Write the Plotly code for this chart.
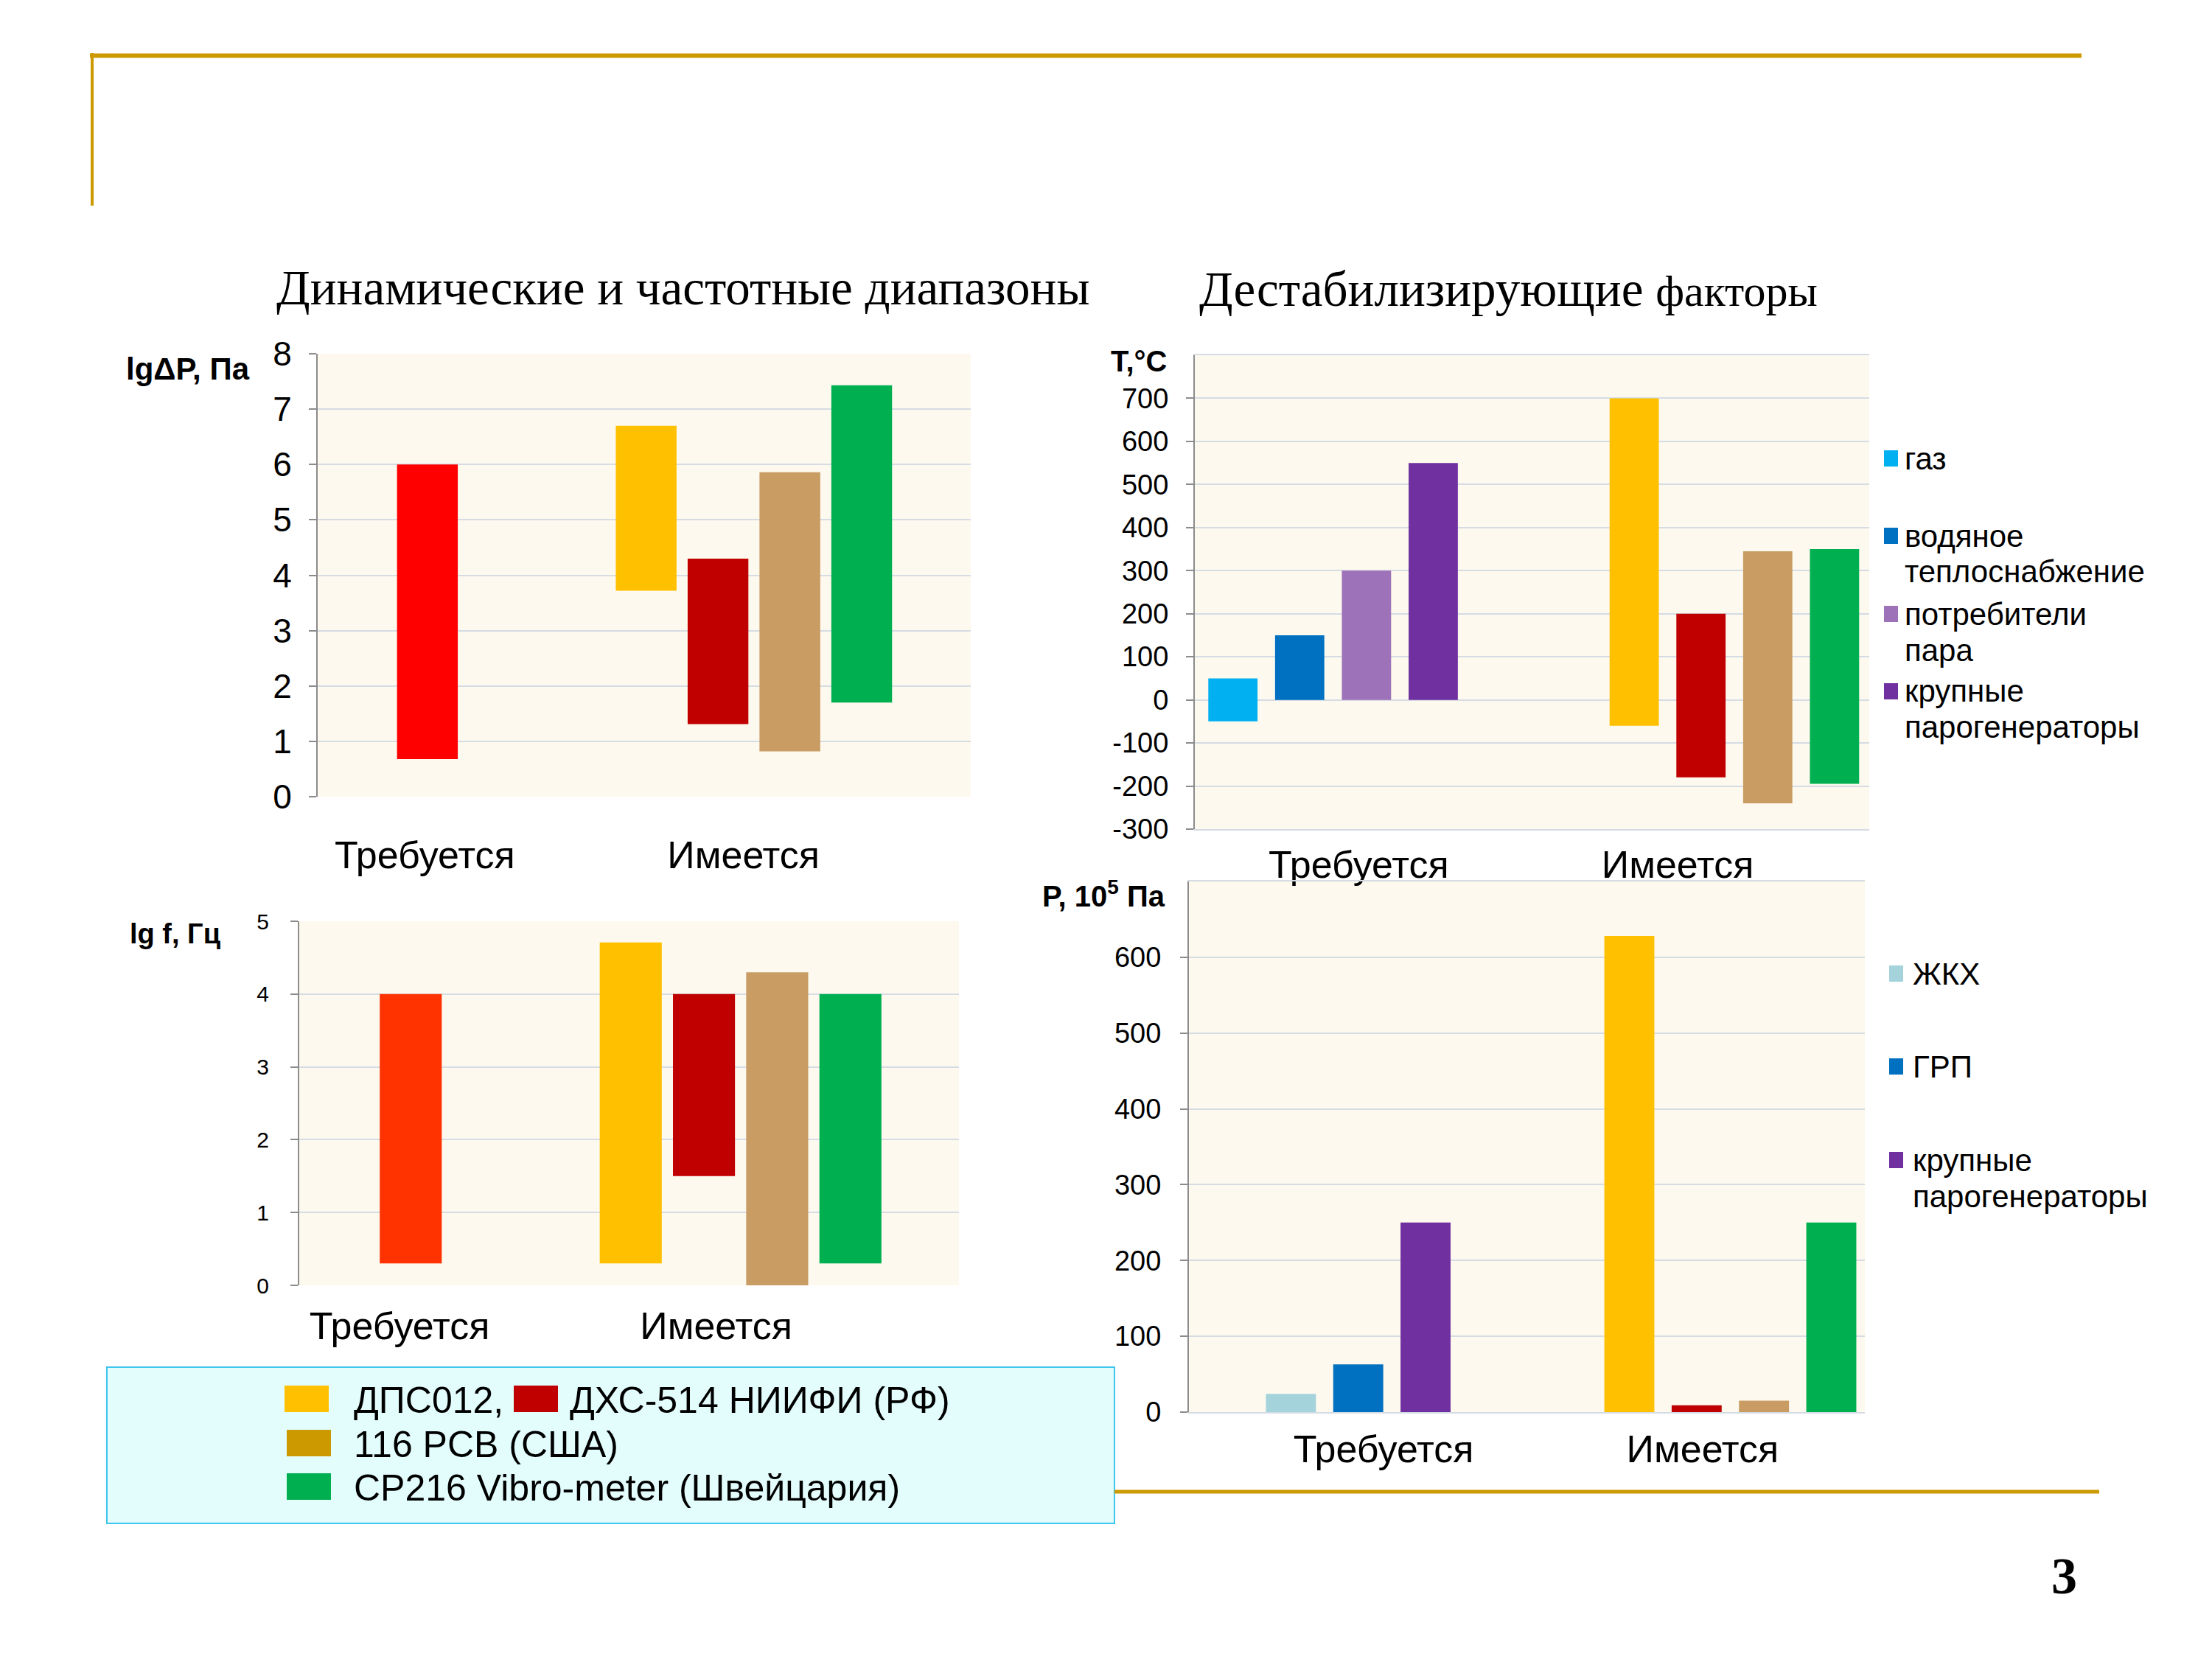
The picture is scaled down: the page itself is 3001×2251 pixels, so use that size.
import plotly.graph_objects as go

W, H = 3001, 2251
BODY = 8  # page body margin the figure is drawn inside

# ---------------- data ----------------
categories = ["Требуется", "Имеется"]

# Chart 1: dynamic range, lgΔP
dp_group = [0, 1, 1, 1, 1]
dp_low = [0.68, 3.72, 1.31, 0.82, 1.70]
dp_high = [6.00, 6.70, 4.30, 5.86, 7.43]
dp_ticks = [0, 1, 2, 3, 4, 5, 6, 7, 8]

# Chart 2: frequency range, lg f
fr_group = [0, 1, 1, 1, 1]
fr_low = [0.30, 0.30, 1.50, 0.00, 0.30]
fr_high = [4.00, 4.71, 4.00, 4.30, 4.00]
fr_ticks = [0, 1, 2, 3, 4, 5]

# Chart 3: temperature, °C
t_group = [0, 0, 0, 0, 1, 1, 1, 1]
t_low = [-50, 0, 0, 0, -60, -180, -240, -195]
t_high = [50, 150, 300, 550, 700, 200, 345, 350]
t_ticks = [-300, -200, -100, 0, 100, 200, 300, 400, 500, 600, 700]
t_range = [-300, 800]
t_legend = ["газ", "водяное<br>теплоснабжение", "потребители<br>пара", "крупные<br>парогенераторы"]

# Chart 4: pressure, 10^5 Па
p_group = [0, 0, 0, 1, 1, 1, 1]
p_low = [0, 0, 0, 0, 0, 0, 0]
p_high = [24, 63, 250, 628, 9, 15, 250]
p_ticks = [0, 100, 200, 300, 400, 500, 600]
p_range = [0, 700]
p_legend = ["ЖКХ", "ГРП", "крупные<br>парогенераторы"]

device_legend = ["ДПС012,", "ДХС-514 НИИФИ (РФ)", "116 PCB (США)", "CP216 Vibro-meter (Швейцария)"]

# ---------------- styles ----------------
YEL, DRED, TAN, GRN = "#FFC000", "#C00000", "#C89C62", "#00B050"
dp_colors = ["#FF0000", YEL, DRED, TAN, GRN]
fr_colors = ["#FF3300", YEL, DRED, TAN, GRN]
t_colors = ["#00B0F0", "#0070C0", "#9E72B9", "#7030A0", YEL, DRED, TAN, GRN]
p_colors = ["#A5D3DC", "#0070C0", "#7030A0", YEL, DRED, TAN, GRN]
dev_colors = [YEL, DRED, "#CC9900", GRN]
GOLD = "#CC9900"
SANS = "Liberation Sans, Arial, sans-serif"
SERIF = "Liberation Serif, Times New Roman, serif"
PLOTBG = "#FDF9EE"
GRID = "#D5DCE4"
AXLINE = "#8C8C8C"


def px(x):
    return (x - BODY) / W


def py(y):
    return 1 - (y - BODY) / H


fig = go.Figure()


def add_chart(n, groups, low, high, colors, centers, spacing, width):
    ax = "" if n == 1 else str(n)
    for g in sorted(set(groups)):
        idx = [i for i in range(len(groups)) if groups[i] == g]
        k = len(idx)
        for j, i in enumerate(idx):
            xpos = centers[g] + (j - (k - 1) / 2) * spacing
            fig.add_trace(go.Bar(
                x=[xpos], y=[high[i] - low[i]], base=[low[i]], width=width,
                marker=dict(color=colors[i], line=dict(width=0)),
                xaxis="x" + ax, yaxis="y" + ax, showlegend=False, hoverinfo="skip"))


add_chart(1, dp_group, dp_low, dp_high, dp_colors, [0.168, 0.668], 0.110, 0.093)
add_chart(2, t_group, t_low, t_high, t_colors, [0.205, 0.800], 0.099, 0.073)
add_chart(3, fr_group, fr_low, fr_high, fr_colors, [0.169, 0.669], 0.111, 0.094)
add_chart(4, p_group, p_low, p_high, p_colors, [0.2505, 0.801], 0.0996, 0.074)


def xaxis(dom, labelpos, standoff, anchor, frame=False):
    return dict(domain=dom, range=[0, 1], anchor=anchor, showgrid=False, zeroline=False,
                showline=frame, linecolor=GRID, linewidth=2, mirror=frame,
                tickmode="array", tickvals=labelpos, ticktext=categories,
                ticks="", tickfont=dict(family=SANS, size=52, color="black"),
                ticklabelstandoff=standoff, fixedrange=True, automargin=False)


def yaxis(dom, rng, ticks, size, standoff, anchor):
    return dict(domain=dom, range=rng, anchor=anchor, showgrid=True, gridcolor=GRID, gridwidth=2,
                zeroline=False, showline=True, linecolor=AXLINE, linewidth=2,
                ticks="outside", ticklen=10, tickcolor=AXLINE, tickwidth=2,
                tickmode="array", tickvals=ticks, ticktext=[str(v) for v in ticks],
                tickfont=dict(family=SANS, size=size, color="black"),
                ticklabelstandoff=standoff, fixedrange=True, automargin=False)


layout = dict(
    width=W, height=H, margin=dict(l=0, r=0, t=0, b=0, pad=0, autoexpand=False),
    paper_bgcolor="white", plot_bgcolor=PLOTBG, barmode="overlay", showlegend=False,
    xaxis=xaxis([px(431), px(1317)], [0.164, 0.652], 44, "y"),
    yaxis=yaxis([py(1081), py(480)], [0, 8], dp_ticks, 46, 14, "x"),
    xaxis2=xaxis([px(1621), px(2536)], [0.243, 0.716], 2, "y2", frame=True),
    yaxis2=yaxis([py(1125), py(482)], t_range, t_ticks, 38, 16, "x2"),
    xaxis3=xaxis([px(406), px(1301)], [0.152, 0.632], 20, "y3"),
    yaxis3=yaxis([py(1744), py(1250)], [0, 5], fr_ticks, 30, 23, "x3"),
    xaxis4=xaxis([px(1613), px(2530)], [0.288, 0.760], 4, "y4", frame=True),
    yaxis4=yaxis([py(1916), py(1196)], p_range, p_ticks, 38, 18, "x4"),
)
fig.update_layout(**layout)

annotations = []
shapes = []


def text(x, y, s, size, family=SANS, anchor="left", bold=False, color="black"):
    annotations.append(dict(
        x=px(x), y=py(y), xref="paper", yref="paper", text=("<b>%s</b>" % s) if bold else s,
        showarrow=False, xanchor=anchor, yanchor="middle",
        font=dict(family=family, size=size, color=color)))


def rect(x0, y0, x1, y1, color, line=None, lw=0, layer="above"):
    shapes.append(dict(type="rect", xref="paper", yref="paper",
                       x0=px(x0), x1=px(x1), y0=py(y1), y1=py(y0),
                       fillcolor=color, line=dict(width=lw, color=line or color), layer=layer))


# Titles
text(373, 390, "Динамические и частотные диапазоны", 67, SERIF)
text(1625, 392, "Дестабилизирующие <span style='font-size:60px'>факторы</span>", 67, SERIF)

# Axis titles
text(341, 501, "lgΔP, Па", 42, anchor="right", bold=True)
text(1585, 490, "Т,°С", 40, anchor="right", bold=True)
text(302, 1267, "lg f, Гц", 38, anchor="right", bold=True)
text(1583, 1213, "P, 10<sup>5</sup> Па", 40, anchor="right", bold=True)

# Legend chart 2 (temperature)
t_entry_y = [622, 727, 833, 938]
for i, lbl in enumerate(t_legend):
    rect(2556, t_entry_y[i] - 11, 2575, t_entry_y[i] + 11, t_colors[i])
    for k, line in enumerate(lbl.split("<br>")):
        text(2582, t_entry_y[i] + k * 49, line, 42)

# Legend chart 4 (pressure)
p_entry_y = [1321, 1447, 1574]
for i, lbl in enumerate(p_legend):
    rect(2563, p_entry_y[i] - 11, 2582, p_entry_y[i] + 11, p_colors[i])
    for k, line in enumerate(lbl.split("<br>")):
        text(2593, p_entry_y[i] + k * 49, line, 42)

# Devices legend box
rect(145, 1855, 1512, 2067, "#E3FDFD", line="#3EC5F0", lw=2, layer="below")
dev_pos = [(386, 1898, 478), (697, 1898, 771), (389, 1958, 478), (389, 2017, 478)]
for i, lbl in enumerate(device_legend):
    x0, yc, tx = dev_pos[i]
    rect(x0, yc - 18, x0 + 60, yc + 18, dev_colors[i])
    text(tx, yc + 2, lbl, 50)

# Decorative slide lines
shapes.append(dict(type="line", xref="paper", yref="paper", x0=px(122), x1=px(2824), y0=py(75.5), y1=py(75.5),
                   line=dict(color=GOLD, width=6)))
shapes.append(dict(type="line", xref="paper", yref="paper", x0=px(125), x1=px(125), y0=py(72), y1=py(279),
                   line=dict(color=GOLD, width=4)))
shapes.append(dict(type="line", xref="paper", yref="paper", x0=px(1512), x1=px(2848), y0=py(2024), y1=py(2024),
                   line=dict(color=GOLD, width=5)))

# Page number
text(2800, 2138, "3", 70, SERIF, anchor="center", bold=True)

fig.update_layout(annotations=annotations, shapes=shapes)
fig.write_html("out.html")
